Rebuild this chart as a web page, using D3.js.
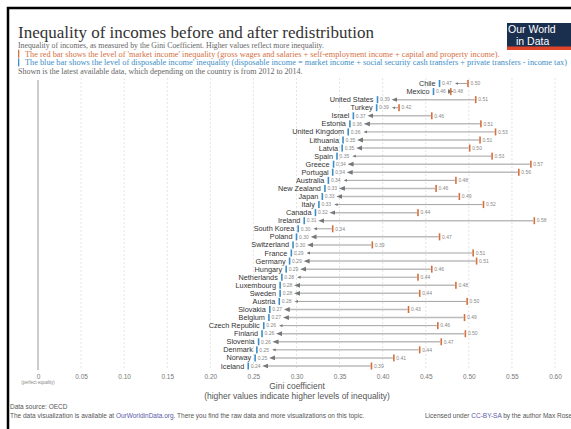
<!DOCTYPE html>
<html>
<head>
<meta charset="utf-8">
<script src="https://cdn.jsdelivr.net/npm/d3@7"></script>
<style>
  body { margin: 0; background: #fff; }
  svg { display: block; }
</style>
</head>
<body>
<div id="chart"></div>
<script>
// countries from top to bottom
var countries = ["Chile", "Mexico", "United States", "Turkey", "Israel", "Estonia", "United Kingdom",
  "Lithuania", "Latvia", "Spain", "Greece", "Portugal", "Australia", "New Zealand", "Japan", "Italy",
  "Canada", "Ireland", "South Korea", "Poland", "Switzerland", "France", "Germany", "Hungary",
  "Netherlands", "Luxembourg", "Sweden", "Austria", "Slovakia", "Belgium", "Czech Republic",
  "Finland", "Slovenia", "Denmark", "Norway", "Iceland"];

// disposable income Gini (blue)
var disposable = [0.466, 0.459, 0.394, 0.393, 0.366, 0.362, 0.360,
  0.354, 0.353, 0.347, 0.343, 0.342, 0.337, 0.333, 0.330, 0.326,
  0.322, 0.309, 0.302, 0.300, 0.296, 0.294, 0.292, 0.288,
  0.283, 0.281, 0.281, 0.280, 0.269, 0.268, 0.262,
  0.260, 0.256, 0.254, 0.252, 0.244];

// market income Gini (red)
var market = [0.499, 0.479, 0.508, 0.419, 0.457, 0.514, 0.531,
  0.513, 0.501, 0.527, 0.572, 0.558, 0.485, 0.462, 0.489, 0.517,
  0.441, 0.576, 0.342, 0.466, 0.388, 0.505, 0.509, 0.457,
  0.441, 0.485, 0.443, 0.498, 0.430, 0.495, 0.464,
  0.496, 0.468, 0.443, 0.413, 0.387];

var xTicks = [0, 0.05, 0.10, 0.15, 0.20, 0.25, 0.30, 0.35, 0.40, 0.45, 0.50, 0.55, 0.60];

var W = 571, H = 429;
var blue = "#3d8ec6", red = "#d4703f";
var sans = "Liberation Sans, Arial, sans-serif";
var serif = "Liberation Serif, Georgia, serif";

var svg = d3.select("#chart").append("svg")
  .attr("width", W).attr("height", H);

// frame
svg.append("path")
  .attr("d", "M8," + (H + 5) + "V8H" + (W + 5))
  .attr("fill", "none").attr("stroke", "#000").attr("stroke-width", 2.5);

// title and subtitle
svg.append("text").attr("x", 18).attr("y", 37.5)
  .attr("font-family", serif).attr("font-size", 17).attr("fill", "#333")
  .text("Inequality of incomes before and after redistribution");

var sub = [
  { t: "Inequality of incomes, as measured by the Gini Coefficient. Higher values reflect more inequality.", c: "#666", bar: null, fs: 7.8 },
  { t: "The red bar shows the level of 'market income' inequality (gross wages and salaries + self-employment income + capital and property income).", c: red, bar: red, fs: 8.3 },
  { t: "The blue bar shows the level of disposable income' inequality (disposable income = market income + social security cash transfers + private transfers - income tax)", c: blue, bar: blue, fs: 8.3 },
  { t: "Shown is the latest available data, which depending on the country is from 2012 to 2014.", c: "#666", bar: null, fs: 8 }
];
sub.forEach(function (s, i) {
  var y = 48 + i * 8.7;
  var x = 18;
  if (s.bar) {
    svg.append("rect").attr("x", 18).attr("y", y - 7).attr("width", 1.3).attr("height", 8).attr("fill", s.bar);
    x = 25;
  }
  svg.append("text").attr("x", x).attr("y", y)
    .attr("font-family", serif).attr("font-size", s.fs).attr("fill", s.c).text(s.t);
});

// logo
var logo = svg.append("g").attr("transform", "translate(507,23)");
logo.append("rect").attr("width", 70).attr("height", 27).attr("fill", "#1a2e4e");
logo.append("rect").attr("y", 23.5).attr("width", 70).attr("height", 3.5).attr("fill", "#e0452a");
logo.append("text").attr("x", 1).attr("y", 10).attr("font-family", sans).attr("font-size", 10.5)
  .attr("fill", "#fff").text("Our World");
logo.append("text").attr("x", 9).attr("y", 21.5).attr("font-family", sans).attr("font-size", 10.5)
  .attr("fill", "#fff").text("in Data");

// scales
var x = d3.scaleLinear().domain([0, 0.6]).range([38, 555]);
var y = d3.scalePoint().domain(countries).range([83.5, 366]);

// grid
svg.append("g").selectAll("line")
  .data(xTicks.slice(1)).enter().append("line")
  .attr("x1", function (d) { return x(d); }).attr("x2", function (d) { return x(d); })
  .attr("y1", 78).attr("y2", 369)
  .attr("stroke", "#ddd").attr("stroke-width", 0.8).attr("stroke-dasharray", "2,2");
svg.append("line").attr("x1", x(0)).attr("x2", x(0)).attr("y1", 80).attr("y2", 370)
  .attr("stroke", "#999").attr("stroke-width", 1);

// x axis labels
var axis = d3.axisBottom(x).tickValues(xTicks).tickSize(0)
  .tickFormat(function (d) { return d === 0 ? "0" : d3.format(".2f")(d); });
var ax = svg.append("g").attr("transform", "translate(0,373)").call(axis);
ax.select(".domain").remove();
ax.selectAll("text").attr("font-family", sans).attr("font-size", 6.5).attr("fill", "#777").attr("dy", "0.5em");
svg.append("text").attr("x", x(0)).attr("y", 384).attr("text-anchor", "middle")
  .attr("font-family", sans).attr("font-size", 4.5).attr("fill", "#888").text("(perfect equality)");
svg.append("text").attr("x", 297).attr("y", 389).attr("text-anchor", "middle")
  .attr("font-family", sans).attr("font-size", 8.5).attr("fill", "#555").text("Gini coefficient");
svg.append("text").attr("x", 297).attr("y", 399).attr("text-anchor", "middle")
  .attr("font-family", sans).attr("font-size", 8.5).attr("fill", "#555")
  .text("(higher values indicate higher levels of inequality)");

// arrow marker
svg.append("defs").append("marker")
  .attr("id", "arrowhead")
  .attr("viewBox", "0 -5 10 10")
  .attr("refX", 5).attr("refY", 0)
  .attr("orient", "auto")
  .attr("markerWidth", 4).attr("markerHeight", 4)
  .append("path")
  .attr("d", "M0,-4L10,0L0,4")
  .attr("fill", "#777");

var rows = countries.map(function (c, i) {
  return { name: c, d: disposable[i], m: market[i] };
});

var g = svg.append("g").selectAll("g").data(rows).enter().append("g")
  .attr("transform", function (d) { return "translate(0," + y(d.name) + ")"; });

var fmt = d3.format(".2f");

// connecting arrow from market to disposable
g.append("line")
  .attr("x1", function (d) { return x(d.m) - 1; })
  .attr("x2", function (d) { return x(d.d) + 17; })
  .attr("y1", 0).attr("y2", 0)
  .attr("stroke", function (d, i) { return i % 3 === 0 ? "#999" : "#bbb"; })
  .attr("stroke-width", function (d, i) { return i % 3 === 0 ? 0.9 : 1.5; })
  .attr("marker-end", "url(#arrowhead)");

g.append("rect")
  .attr("x", function (d) { return x(d.d) - 0.8; }).attr("y", -3.5)
  .attr("width", 1.6).attr("height", 7).attr("fill", blue);
g.append("rect")
  .attr("x", function (d) { return x(d.m) - 0.8; }).attr("y", -3.5)
  .attr("width", 1.6).attr("height", 7).attr("fill", red);

g.append("text")
  .attr("x", function (d) { return x(d.d) + 2.5; }).attr("dy", "0.35em")
  .attr("font-family", sans).attr("font-size", 5).attr("fill", "#888")
  .text(function (d) { return fmt(d.d); });
g.append("text")
  .attr("x", function (d) { return x(d.m) + 2.5; }).attr("dy", "0.35em")
  .attr("font-family", sans).attr("font-size", 5).attr("fill", "#888")
  .text(function (d) { return fmt(d.m); });

g.append("text")
  .attr("x", function (d) { return x(d.d) - 4; }).attr("dy", "0.35em")
  .attr("text-anchor", "end")
  .attr("font-family", sans).attr("font-size", 7.3).attr("fill", "#333")
  .text(function (d) { return d.name; });

// footer
svg.append("text").attr("x", 10).attr("y", 409).attr("font-family", sans).attr("font-size", 6.5)
  .attr("fill", "#555").text("Data source: OECD");
var f = svg.append("text").attr("x", 10).attr("y", 418).attr("font-family", sans).attr("font-size", 6.5)
  .attr("fill", "#555");
f.append("tspan").text("The data visualization is available at ");
f.append("tspan").attr("fill", "#5b5ba8").text("OurWorldinData.org");
f.append("tspan").text(". There you find the raw data and more visualizations on this topic.");
var lic = svg.append("text").attr("x", 425).attr("y", 418).attr("font-family", sans).attr("font-size", 6.5)
  .attr("fill", "#555");
lic.append("tspan").text("Licensed under ");
lic.append("tspan").attr("fill", "#5b5ba8").text("CC-BY-SA");
lic.append("tspan").text(" by the author Max Roser");
</script>
</body>
</html>
